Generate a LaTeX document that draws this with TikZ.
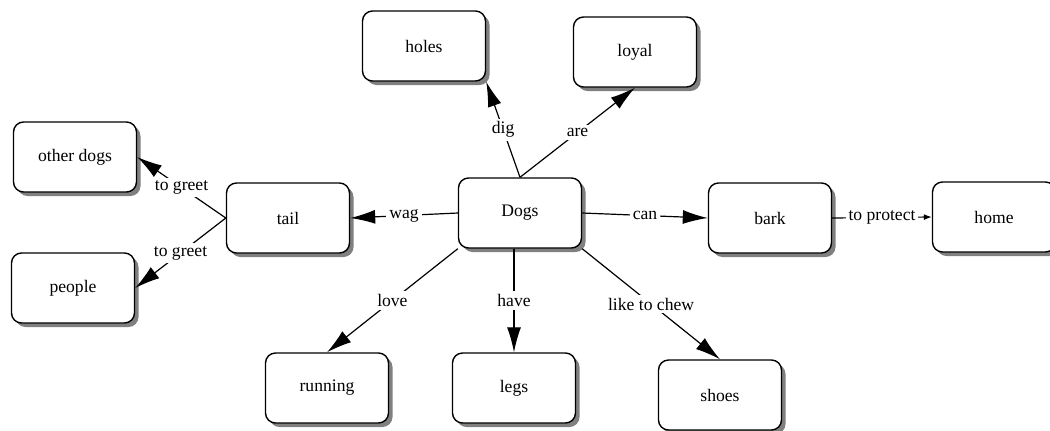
\documentclass[tikz,border=0pt]{standalone}
\usepackage{fontspec}
\setmainfont{Liberation Serif}
\usetikzlibrary{arrows.meta,shadows}

\tikzset{
  concept/.style={draw, fill=white, rounded corners=5pt, line width=0.7pt,
    minimum width=61.5pt, minimum height=35pt, font=\fontsize{8.8}{10}\selectfont,
    drop shadow={shadow xshift=2pt, shadow yshift=-2pt, fill=gray, opacity=1}},
  linkword/.style={fill=white, inner sep=1.5pt, font=\fontsize{8.8}{10}\selectfont},
}

\begin{document}
\begin{tikzpicture}[x=0.5pt, y=-0.5pt]
      \useasboundingbox (0,0) rectangle (1050,430);
      \draw
        (520,213) node[concept] (dogs){Dogs}
        (424,46) node[concept] (holes){holes}
        (635,52) node[concept] (loyal){loyal}
        (288,218) node[concept] (tail){tail}
        (75,157) node[concept] (otherdogs){other dogs}
        (73,288) node[concept] (people){people}
        (770,218) node[concept] (bark){bark}
        (994,217) node[concept] (home){home}
        (327,388) node[concept] (running){running}
        (514,388) node[concept] (legs){legs}
        (720,395) node[concept] (shoes){shoes};
      \begin{scope}[line width=0.6pt, -{Latex[length=12.5pt,width=7pt]}]
        \draw (dogs.north) to node[linkword]{dig} (holes.south east);
        \draw (dogs.north) to node[linkword]{are} (loyal.south);
        \draw (dogs.west) to node[linkword]{wag} (tail.east);
        \draw (dogs.east) to node[linkword]{can} (bark.west);
        \draw[-{Latex[length=4pt,width=3pt]}] (bark.east) to node[linkword]{to protect} (home.west);
        \draw (tail.west) to node[linkword]{to greet} (otherdogs.east);
        \draw (tail.west) to node[linkword]{to greet} (people.east);
        \draw (dogs.south west) to node[linkword]{love} (running.north);
        \draw (legs.north |- dogs.south) to node[linkword]{have} (legs.north);
        \draw (dogs.south east) to node[linkword]{like to chew} (shoes.north);
      \end{scope}
    \end{tikzpicture}
\end{document}
